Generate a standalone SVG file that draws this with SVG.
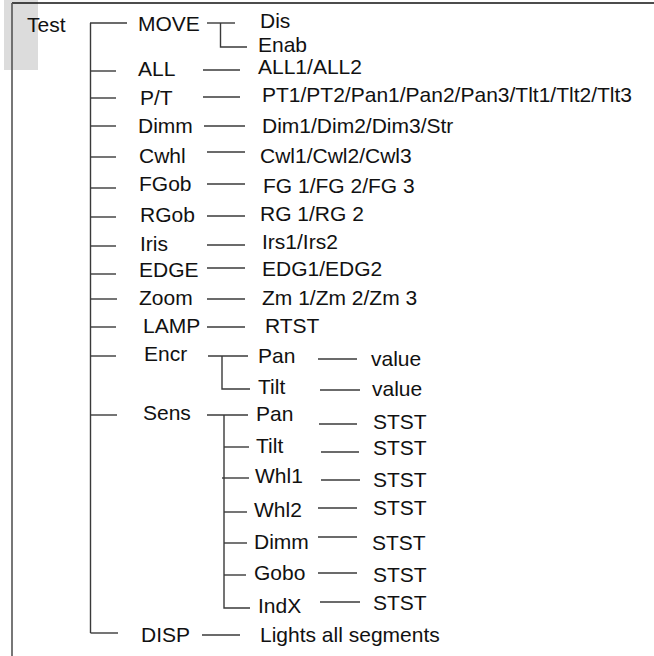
<svg xmlns="http://www.w3.org/2000/svg" width="654" height="656" viewBox="0 0 654 656">
<style>
text{font-family:"Liberation Sans",Arial,sans-serif;font-size:21px;fill:#111}
.c line,.c path{stroke:#3a3a3a;stroke-width:1.4;fill:none}
</style>
<rect x="4" y="0" width="34" height="70" fill="#dcdcdc"/>
<line x1="12" y1="3" x2="654" y2="3" stroke="#111" stroke-width="1.6"/>
<line x1="12" y1="3" x2="12" y2="656" stroke="#555" stroke-width="1.6"/>
<g id="root"><text x="27" y="31.5">Test</text></g>
<g class="c" id="connectors">
<line x1="90.5" y1="23" x2="90.5" y2="633"/>
<line x1="90" y1="23" x2="127" y2="23"/>
<line x1="90" y1="71" x2="116" y2="71"/>
<line x1="90" y1="98" x2="116" y2="98"/>
<line x1="90" y1="126" x2="116" y2="126"/>
<line x1="90" y1="157" x2="116" y2="157"/>
<line x1="90" y1="188" x2="116" y2="188"/>
<line x1="90" y1="217" x2="116" y2="217"/>
<line x1="90" y1="246" x2="116" y2="246"/>
<line x1="90" y1="274" x2="116" y2="274"/>
<line x1="90" y1="299" x2="117" y2="299"/>
<line x1="90" y1="327" x2="116" y2="327"/>
<line x1="90" y1="356" x2="116" y2="356"/>
<line x1="90" y1="415" x2="117" y2="415"/>
<path d="M90.5 633H118"/>
<line x1="207" y1="23" x2="235" y2="23"/>
<path d="M220.5 23V47H247"/>
<line x1="203" y1="70" x2="240" y2="70"/>
<line x1="203" y1="97" x2="240" y2="97"/>
<line x1="204" y1="126" x2="245" y2="126"/>
<line x1="207" y1="152" x2="245" y2="152"/>
<line x1="207" y1="184" x2="245" y2="184"/>
<line x1="207" y1="216" x2="245" y2="216"/>
<line x1="207" y1="245" x2="245" y2="245"/>
<line x1="207" y1="268" x2="245" y2="268"/>
<line x1="207" y1="299" x2="245" y2="299"/>
<line x1="207" y1="327" x2="245" y2="327"/>
<line x1="208" y1="356" x2="248" y2="356"/>
<path d="M222 356V389H250"/>
<line x1="318" y1="359" x2="357" y2="359"/>
<line x1="320" y1="390" x2="360" y2="390"/>
<line x1="207" y1="415" x2="248" y2="415"/>
<path d="M224 415V608H250"/>
<line x1="224" y1="447" x2="249" y2="447"/>
<line x1="222" y1="478" x2="249" y2="478"/>
<line x1="224" y1="512" x2="247" y2="512"/>
<line x1="224" y1="543" x2="247" y2="543"/>
<line x1="224" y1="575" x2="246" y2="575"/>
<line x1="319" y1="424" x2="357" y2="424"/>
<line x1="321" y1="452" x2="359" y2="452"/>
<line x1="321" y1="480" x2="360" y2="480"/>
<line x1="318" y1="508" x2="357" y2="508"/>
<line x1="318" y1="537" x2="357" y2="537"/>
<line x1="318" y1="573" x2="357" y2="573"/>
<line x1="320" y1="602" x2="360" y2="602"/>
<line x1="202" y1="635" x2="240" y2="635"/>
</g>
<g id="move"><text x="138" y="31">MOVE</text></g>
<g id="move-dis"><text x="260" y="28">Dis</text></g>
<g id="move-enab"><text x="258" y="52">Enab</text></g>
<g id="all"><text x="138" y="76">ALL</text></g>
<g id="all-v"><text x="258" y="74">ALL1/ALL2</text></g>
<g id="pt"><text x="140" y="105">P/T</text></g>
<g id="pt-v"><text x="262" y="102">PT1/PT2/Pan1/Pan2/Pan3/Tlt1/Tlt2/Tlt3</text></g>
<g id="dimm"><text x="138" y="133">Dimm</text></g>
<g id="dimm-v"><text x="262" y="133">Dim1/Dim2/Dim3/Str</text></g>
<g id="cwhl"><text x="139" y="163">Cwhl</text></g>
<g id="cwhl-v"><text x="260" y="163">Cwl1/Cwl2/Cwl3</text></g>
<g id="fgob"><text x="139" y="191">FGob</text></g>
<g id="fgob-v"><text x="263" y="193">FG 1/FG 2/FG 3</text></g>
<g id="rgob"><text x="140" y="222">RGob</text></g>
<g id="rgob-v"><text x="260" y="221">RG 1/RG 2</text></g>
<g id="iris"><text x="140" y="251">Iris</text></g>
<g id="iris-v"><text x="262" y="249">Irs1/Irs2</text></g>
<g id="edge"><text x="139" y="277">EDGE</text></g>
<g id="edge-v"><text x="262" y="276">EDG1/EDG2</text></g>
<g id="zoom"><text x="139" y="305">Zoom</text></g>
<g id="zoom-v"><text x="262" y="305">Zm 1/Zm 2/Zm 3</text></g>
<g id="lamp"><text x="143" y="333">LAMP</text></g>
<g id="lamp-v"><text x="265" y="333">RTST</text></g>
<g id="encr"><text x="144" y="361">Encr</text></g>
<g id="encr-pan"><text x="258" y="363">Pan</text></g>
<g id="encr-pan-v"><text x="371" y="366">value</text></g>
<g id="encr-tilt"><text x="258" y="394">Tilt</text></g>
<g id="encr-tilt-v"><text x="372" y="396">value</text></g>
<g id="sens"><text x="143" y="420">Sens</text></g>
<g id="sens-pan"><text x="256" y="421">Pan</text></g>
<g id="sens-tilt"><text x="256" y="453">Tilt</text></g>
<g id="sens-whl1"><text x="255" y="483">Whl1</text></g>
<g id="sens-whl2"><text x="254" y="517">Whl2</text></g>
<g id="sens-dimm"><text x="254" y="549">Dimm</text></g>
<g id="sens-gobo"><text x="254" y="580">Gobo</text></g>
<g id="sens-indx"><text x="258" y="613">IndX</text></g>
<g id="sens-pan-v"><text x="373" y="429">STST</text></g>
<g id="sens-tilt-v"><text x="373" y="455">STST</text></g>
<g id="sens-whl1-v"><text x="373" y="487">STST</text></g>
<g id="sens-whl2-v"><text x="373" y="515">STST</text></g>
<g id="sens-dimm-v"><text x="372" y="550">STST</text></g>
<g id="sens-gobo-v"><text x="373" y="582">STST</text></g>
<g id="sens-indx-v"><text x="373" y="610">STST</text></g>
<g id="disp"><text x="141" y="642">DISP</text></g>
<g id="disp-v"><text x="260" y="642">Lights all segments</text></g>
</svg>
